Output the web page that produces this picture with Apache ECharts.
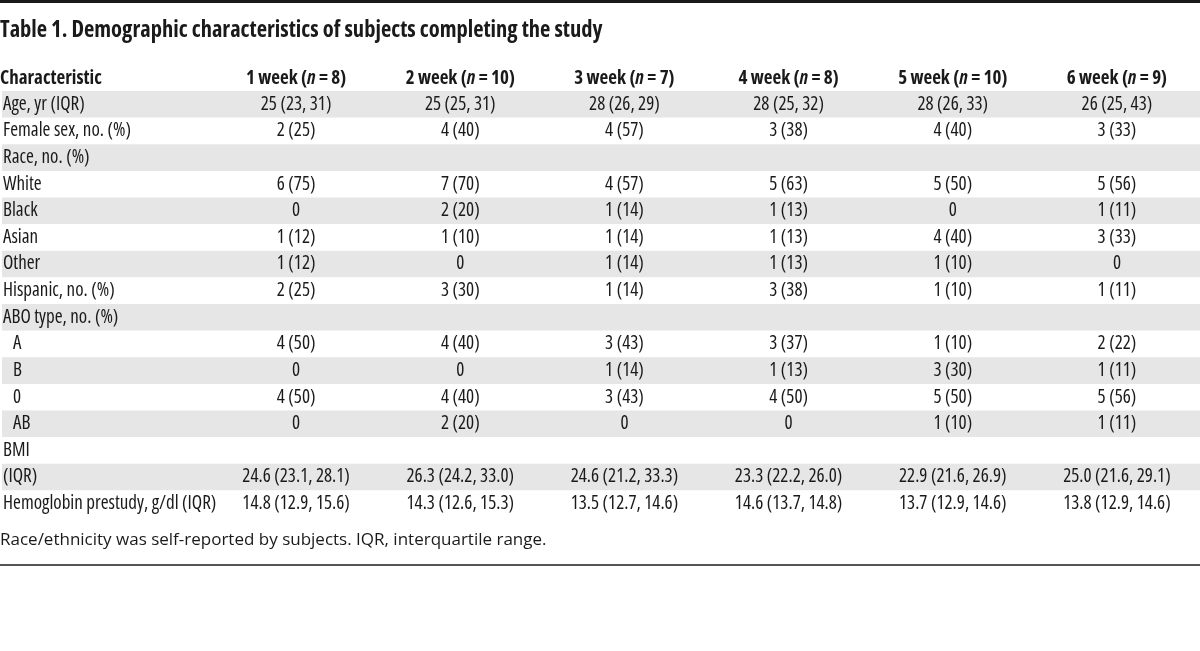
<!DOCTYPE html>
<html>
<head>
<meta charset="utf-8">
<script src="https://cdn.jsdelivr.net/npm/echarts@6/dist/echarts.min.js"></script>
<style>html,body{margin:0;padding:0;background:#fff}#c{width:1200px;height:651px}</style>
</head>
<body>
<div id="c"></div>
<script>
const titleText = 'Table 1. Demographic characteristics of subjects completing the study';
const headerFirst = 'Characteristic';
const footnote = 'Race/ethnicity was self-reported by subjects. IQR, interquartile range.';
const rowNames = ['Age, yr (IQR)', 'Female sex, no. (%)', 'Race, no. (%)', 'White', 'Black', 'Asian', 'Other',
  'Hispanic, no. (%)', 'ABO type, no. (%)', 'A', 'B', '0', 'AB', 'BMI', '(IQR)', 'Hemoglobin prestudy, g/dl (IQR)'];
const indentRows = ['A', 'B', '0', 'AB'];
const weekNames = ['1 week', '2 week', '3 week', '4 week', '5 week', '6 week'];
const nValues = [8, 10, 7, 8, 10, 9];
const week1 = ['25 (23, 31)', '2 (25)', '', '6 (75)', '0', '1 (12)', '1 (12)', '2 (25)', '', '4 (50)', '0', '4 (50)', '0', '', '24.6 (23.1, 28.1)', '14.8 (12.9, 15.6)'];
const week2 = ['25 (25, 31)', '4 (40)', '', '7 (70)', '2 (20)', '1 (10)', '0', '3 (30)', '', '4 (40)', '0', '4 (40)', '2 (20)', '', '26.3 (24.2, 33.0)', '14.3 (12.6, 15.3)'];
const week3 = ['28 (26, 29)', '4 (57)', '', '4 (57)', '1 (14)', '1 (14)', '1 (14)', '1 (14)', '', '3 (43)', '1 (14)', '3 (43)', '0', '', '24.6 (21.2, 33.3)', '13.5 (12.7, 14.6)'];
const week4 = ['28 (25, 32)', '3 (38)', '', '5 (63)', '1 (13)', '1 (13)', '1 (13)', '3 (38)', '', '3 (37)', '1 (13)', '4 (50)', '0', '', '23.3 (22.2, 26.0)', '14.6 (13.7, 14.8)'];
const week5 = ['28 (26, 33)', '4 (40)', '', '5 (50)', '0', '4 (40)', '1 (10)', '1 (10)', '', '1 (10)', '3 (30)', '5 (50)', '1 (10)', '', '22.9 (21.6, 26.9)', '13.7 (12.9, 14.6)'];
const week6 = ['26 (25, 43)', '3 (33)', '', '5 (56)', '1 (11)', '3 (33)', '0', '1 (11)', '', '2 (22)', '1 (11)', '5 (56)', '1 (11)', '', '25.0 (21.6, 29.1)', '13.8 (12.9, 14.6)'];
const columns = [week1, week2, week3, week4, week5, week6];

// ---- font selection: pick the narrowest installed face (condensed widths where available) ----
const mctx = document.createElement('canvas').getContext('2d');
function measure(text, weight, family, size) {
  mctx.font = 'normal ' + weight + ' ' + size + 'px ' + family;
  return mctx.measureText(text).width;
}
const probe = 'Hemoglobin prestudy, g/dl (IQR)';
const candidates = [
  ["'Noto Sans'", 'condensed'], ["'Open Sans'", 'condensed'], ["'Roboto'", 'condensed'],
  ["'Liberation Sans'", 'condensed'], ["'DejaVu Sans'", 'condensed']
];
let best = null;
candidates.forEach(([fam, st]) => {
  const w = measure(probe, st, fam, 100);
  if (!best || w < best.w - 1) best = { fam, st, w };
});
const FONT = best.fam;
const W_REG = best.st;
const W_BOLD = 'bold ' + best.st;
function fit(text, weight, family, target, maxSize) {
  const s = target * 100 / measure(text, weight, family, 100);
  return Math.min(maxSize, Math.round(s * 2) / 2);
}
const BODY = fit(probe, W_REG, FONT, 218, 19);
const HEAD = fit('1 week (n = 8)', W_BOLD, FONT, 102, 19);
const TITLE = fit(titleText, W_BOLD, FONT, 618, 22.5);
const FOOT_FONT = "'Open Sans', 'Noto Sans', sans-serif";
const FOOT = fit(footnote, 'normal', FOOT_FONT, 540, 17);
const TXT = '#1a1a1a';

const weekCats = weekNames.map((w, i) => w + ' (n = ' + nValues[i] + ')');
const cellData = [];
columns.forEach((col, ci) => {
  col.forEach((v, ri) => { if (v !== '') cellData.push([weekCats[ci], rowNames[ri], v]); });
});

const chart = echarts.init(document.getElementById('c'), null, { renderer: 'canvas' });
chart.setOption({
  animation: false,
  backgroundColor: '#fff',
  title: [
    { text: titleText, left: 0, top: 33 - TITLE * 0.6, padding: 0,
      textStyle: { fontFamily: FONT, fontSize: TITLE, fontWeight: W_BOLD, color: TXT } },
    { text: headerFirst, left: 0, top: 80 - HEAD * 0.6, padding: 0,
      textStyle: { fontFamily: FONT, fontSize: HEAD, fontWeight: W_BOLD, color: TXT } },
    { text: footnote, left: 0, top: 542 - FOOT * 0.6, padding: 0,
      textStyle: { fontFamily: FOOT_FONT, fontSize: FOOT, fontWeight: 'normal', color: TXT } }
  ],
  graphic: [
    { type: 'rect', shape: { x: 0, y: 0, width: 1200, height: 3 }, style: { fill: '#1a1a1a' } },
    { type: 'rect', shape: { x: 0, y: 564, width: 1200, height: 2 }, style: { fill: '#555' } }
  ],
  grid: [
    { left: 0, right: 0, top: 91, bottom: 134 },
    { left: 214, right: 1, top: 91, bottom: 134 }
  ],
  xAxis: [
    { type: 'value', gridIndex: 0, show: false, min: 0, max: 1 },
    { type: 'category', gridIndex: 1, data: weekCats, position: 'top',
      axisLine: { show: false }, axisTick: { show: false }, splitLine: { show: false },
      axisLabel: { margin: Math.round(14 - HEAD * 0.6), interval: 0,
        formatter: v => { const m = v.match(/^(.*\()n( = .*)$/); return '{b|' + m[1] + '}{i|n}{b|' + m[2] + '}'; },
        rich: {
          b: { fontFamily: FONT, fontSize: HEAD, fontWeight: W_BOLD, color: TXT },
          i: { fontFamily: FONT, fontSize: HEAD, fontWeight: W_BOLD, fontStyle: 'italic', color: TXT }
        } } }
  ],
  yAxis: [
    { type: 'category', gridIndex: 0, data: rowNames, inverse: true,
      axisLine: { show: false }, axisTick: { show: false }, splitLine: { show: false },
      splitArea: { show: true, areaStyle: { color: ['#e6e6e6', '#ffffff'] } },
      axisLabel: { inside: true, margin: 1, interval: 0,
        formatter: v => indentRows.includes(v) ? '{ind|' + v + '}' : '{n|' + v + '}',
        rich: {
          n: { fontFamily: FONT, fontSize: BODY, fontWeight: W_REG, color: TXT },
          ind: { fontFamily: FONT, fontSize: BODY, fontWeight: W_REG, color: TXT, padding: [0, 0, 0, 10] }
        } } },
    { type: 'category', gridIndex: 1, data: rowNames, inverse: true, show: false }
  ],
  series: [{
    type: 'scatter', xAxisIndex: 1, yAxisIndex: 1, symbolSize: 0, silent: true,
    itemStyle: { opacity: 1 },
    data: cellData,
    label: { show: true, position: 'inside', formatter: p => p.value[2], opacity: 1,
      fontFamily: FONT, fontSize: BODY, fontWeight: W_REG, color: TXT }
  }]
});
</script>
</body>
</html>
